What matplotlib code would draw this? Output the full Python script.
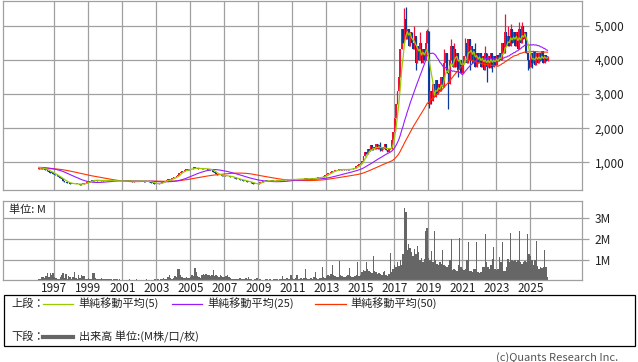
import numpy as np
import pandas as pd
import matplotlib
matplotlib.use("Agg")
import matplotlib.pyplot as plt
from matplotlib.patches import Rectangle
from matplotlib.lines import Line2D

# closes before the visible range, only used to seed the moving averages
pre_1992_1995 = [
    720, 730, 710, 740, 750, 730, 720, 740, 760, 750, 740, 760,
    770, 760, 780, 790, 770, 760, 780, 800, 790, 810, 820, 830,
    840, 860, 850, 870, 880, 860, 850, 870, 860, 850, 840, 860,
    870, 850, 830, 820, 840, 860, 870, 850, 860, 870, 850, 840,
]

# monthly closes, Jan 1996 .. Dec 2025
close_1996_2000 = [
    830, 850, 820, 810, 790, 780, 760, 730, 700, 690, 660, 640,
    620, 590, 560, 530, 500, 470, 440, 420, 410, 390, 380, 370,
    380, 360, 370, 380, 360, 350, 370, 380, 390, 400, 420, 440,
    460, 480, 470, 490, 480, 470, 460, 470, 480, 470, 460, 470,
    470, 480, 460, 470, 460, 450, 460, 470, 460, 450, 460, 450,
]
close_2001_2005 = [
    460, 450, 460, 470, 460, 450, 440, 450, 460, 450, 460, 450,
    460, 450, 440, 450, 460, 450, 430, 410, 400, 380, 370, 380,
    370, 390, 410, 430, 450, 470, 480, 500, 490, 520, 530, 560,
    570, 600, 640, 690, 720, 760, 740, 780, 800, 780, 810, 800,
    820, 860, 840, 830, 810, 820, 800, 840, 820, 800, 810, 790,
]
close_2006_2010 = [
    800, 790, 770, 720, 680, 650, 640, 630, 620, 610, 620, 600,
    610, 600, 590, 580, 570, 560, 540, 520, 510, 500, 490, 480,
    470, 460, 450, 440, 430, 420, 400, 380, 370, 360, 380, 400,
    420, 440, 450, 460, 470, 460, 450, 460, 470, 460, 450, 460,
    470, 480, 470, 490, 500, 490, 480, 500, 510, 500, 490, 500,
]
close_2011_2015 = [
    510, 500, 510, 520, 510, 520, 510, 520, 530, 520, 510, 520,
    530, 520, 540, 550, 540, 560, 570, 560, 580, 600, 620, 650,
    680, 700, 720, 740, 760, 780, 770, 790, 800, 780, 800, 790,
    780, 800, 790, 810, 800, 820, 830, 850, 880, 920, 950, 980,
    1050, 1180, 1300, 1250, 1400, 1330, 1500, 1350, 1450, 1380, 1550, 1400,
]
close_2016_2020 = [
    1500, 1320, 1450, 1380, 1550, 1350, 1300, 1420, 1380, 1650, 1900, 2300,
    2700, 3100, 3500, 4300, 4900, 4500, 5200, 4600, 4900, 4400, 4800, 4500,
    4300, 4700, 3900, 4400, 4000, 4500, 3900, 4300, 4000, 4500, 4850, 2700,
    3100, 2800, 3300, 2900, 3400, 3000, 3300, 3100, 3500, 3200, 3900, 4200,
    3600, 3300, 4000, 4400, 3800, 4300, 3800, 4200, 3700, 4000, 3600, 3900,
]
close_2021_2025 = [
    4100, 4500, 3900, 4600, 4000, 4400, 3900, 4300, 3800, 4200, 3900, 4200,
    3800, 4100, 3700, 4200, 3800, 4100, 3750, 4200, 3800, 4100, 3850, 4150,
    3950, 4200, 4000, 4500, 4200, 4800, 4400, 4700, 4400, 4900, 4500, 4800,
    4400, 4800, 4300, 4900, 4500, 5000, 4600, 4800, 4200, 4000, 3800, 4200,
    3900, 4250, 3850, 4200, 3900, 4200, 3950, 4250, 3900, 4150, 3950, 4100,
]
first_open = 820

# notable wicks (month -> price)
wick_high = {"2016-02": 1600, "2017-07": 5500, "2017-08": 5550, "2018-02": 5000,
             "2018-06": 4800, "2018-11": 4900, "2019-11": 4300, "2020-04": 4600,
             "2020-06": 4500, "2021-02": 4650, "2021-09": 4500, "2022-04": 4400,
             "2023-06": 5350, "2023-08": 5000, "2023-10": 5050, "2024-04": 5100,
             "2024-06": 5100}
wick_low = {"2018-03": 3700, "2018-12": 2600, "2019-02": 2700, "2020-02": 2550,
            "2020-09": 3500, "2021-05": 3700, "2022-05": 3350, "2022-09": 3650,
            "2024-10": 3700, "2024-11": 3750, "2025-01": 3750}

# monthly volume in millions
vol_1996_2000 = [
    0.10, 0.12, 0.20, 0.22, 0.18, 0.25, 0.40, 0.22, 0.42, 0.30, 0.42, 0.20,
    0.15, 0.12, 0.10, 0.20, 0.30, 0.38, 0.15, 0.35, 0.12, 0.25, 0.20, 0.12,
    0.20, 0.45, 0.15, 0.10, 0.30, 0.18, 0.30, 0.25, 0.28, 0.12, 0.10, 0.15,
    0.12, 0.10, 0.40, 0.38, 0.15, 0.12, 0.10, 0.12, 0.15, 0.10, 0.12, 0.10,
    0.12, 0.10, 0.10, 0.12, 0.08, 0.10, 0.12, 0.10, 0.08, 0.10, 0.06, 0.08,
]
vol_2001_2005 = [
    0.05, 0.06, 0.05, 0.08, 0.10, 0.06, 0.05, 0.06, 0.08, 0.10, 0.06, 0.05,
    0.06, 0.08, 0.05, 0.06, 0.10, 0.06, 0.05, 0.08, 0.06, 0.05, 0.12, 0.08,
    0.10, 0.08, 0.12, 0.10, 0.15, 0.12, 0.10, 0.20, 0.32, 0.15, 0.12, 0.18,
    0.25, 0.20, 0.60, 0.58, 0.30, 0.20, 0.15, 0.18, 0.22, 0.15, 0.18, 0.20,
    0.30, 0.25, 0.66, 0.45, 0.25, 0.20, 0.18, 0.30, 0.35, 0.30, 0.35, 0.32,
]
vol_2006_2010 = [
    0.30, 0.25, 0.30, 0.55, 0.25, 0.30, 0.28, 0.20, 0.30, 0.25, 0.20, 0.22,
    0.25, 0.30, 0.20, 0.15, 0.12, 0.10, 0.12, 0.10, 0.12, 0.10, 0.15, 0.12,
    0.10, 0.12, 0.15, 0.10, 0.22, 0.12, 0.10, 0.08, 0.10, 0.12, 0.15, 0.08,
    0.10, 0.08, 0.06, 0.08, 0.10, 0.12, 0.08, 0.10, 0.06, 0.08, 0.10, 0.12,
    0.10, 0.08, 0.12, 0.10, 0.28, 0.12, 0.10, 0.15, 0.12, 0.10, 0.30, 0.15,
]
vol_2011_2015 = [
    0.12, 0.15, 0.33, 0.12, 0.10, 0.15, 0.12, 0.18, 0.60, 0.15, 0.12, 0.10,
    0.15, 0.12, 0.20, 0.47, 0.15, 0.12, 0.18, 0.15, 0.68, 0.20, 0.15, 0.25,
    0.30, 0.25, 0.35, 0.80, 0.30, 0.25, 0.22, 0.20, 0.99, 0.30, 0.25, 0.22,
    0.20, 0.25, 0.30, 0.66, 0.25, 0.20, 0.22, 0.25, 0.30, 0.94, 0.25, 0.30,
    0.45, 0.55, 0.50, 0.90, 0.60, 0.50, 0.45, 0.40, 1.23, 0.50, 0.45, 0.35,
]
vol_2016_2020 = [
    0.40, 0.35, 0.30, 0.45, 0.50, 0.30, 0.25, 0.35, 1.34, 0.45, 0.60, 0.80,
    0.70, 0.90, 0.75, 1.00, 0.80, 1.30, 3.50, 3.28, 1.50, 1.78, 1.60, 1.40,
    1.20, 1.54, 1.30, 1.70, 1.39, 1.00, 1.10, 0.90, 1.05, 2.40, 2.54, 1.10,
    1.00, 1.46, 0.90, 2.40, 1.00, 0.85, 0.80, 0.90, 0.85, 1.50, 0.80, 0.75,
    0.70, 0.80, 1.00, 2.00, 0.55, 0.60, 0.55, 0.50, 0.80, 2.05, 0.68, 0.60,
]
vol_2021_2025 = [
    0.55, 0.60, 1.00, 1.86, 0.52, 0.50, 0.45, 0.60, 0.60, 1.86, 0.45, 0.40,
    0.45, 0.68, 0.70, 2.25, 0.90, 0.70, 0.60, 0.80, 1.07, 1.65, 0.60, 0.55,
    0.60, 1.15, 0.90, 1.86, 0.52, 0.50, 0.70, 1.07, 0.90, 2.28, 1.00, 0.95,
    1.00, 0.90, 1.00, 2.40, 0.90, 0.85, 0.90, 0.95, 0.90, 2.25, 1.30, 1.22,
    1.00, 0.80, 1.00, 1.94, 0.75, 0.60, 0.70, 0.65, 0.68, 1.50, 0.68, 0.20,
]

year_ticks = list(range(1997, 2026, 2))
price_ticks = [1000, 2000, 3000, 4000, 5000]
vol_ticks = [1, 2, 3]

plt.rcParams["font.family"] = ["Noto Sans CJK JP", "DejaVu Sans"]

close = np.array(close_1996_2000 + close_2001_2005 + close_2006_2010 +
                 close_2011_2015 + close_2016_2020 + close_2021_2025, dtype=float)
volume = np.array(vol_1996_2000 + vol_2001_2005 + vol_2006_2010 +
                  vol_2011_2015 + vol_2016_2020 + vol_2021_2025)
n = len(close)
months = pd.date_range("1996-01-01", periods=n, freq="MS")
t = 1996.1 + np.arange(n) / 12.0

opn = np.concatenate([[first_open], close[:-1]])
high = np.maximum(opn, close)
low = np.minimum(opn, close)
keys = list(months.strftime("%Y-%m"))
for k, v in wick_high.items():
    high[keys.index(k)] = v
for k, v in wick_low.items():
    low[keys.index(k)] = v

# moving averages, seeded with the earlier closes
s = pd.Series(pre_1992_1995 + list(close))
npre = len(pre_1992_1995)
ma5 = s.rolling(5).mean().iloc[npre:].values
ma25 = s.rolling(25).mean().iloc[npre:].values
ma50 = s.rolling(50, min_periods=1).mean().iloc[npre:].values

W, H = 638, 362
GRID = "#a0a0a0"
RED = "#f0103a"
BLUE = "#0c3a9a"

fig = plt.figure(figsize=(W / 100, H / 100), dpi=100)
ax = fig.add_axes([3.3 / W, 1 - 190.3 / H, 579 / W, 189.8 / H])
axv = fig.add_axes([3.3 / W, 1 - 280.3 / H, 579 / W, 79.3 / H])

# price panel
up = close >= opn
colors = np.where(up, RED, BLUE)
ax.vlines(t, low, high, colors=colors, linewidth=0.9, zorder=2)
body_h = np.maximum(np.abs(close - opn), 15)
ax.bar(t, body_h, bottom=np.minimum(opn, close), width=0.1,
       color=colors, linewidth=0, zorder=2)
ax.plot(t, ma50, color="#ff3300", linewidth=0.8, zorder=3)
ax.plot(t, ma25, color="#9a1aff", linewidth=0.8, zorder=3)
ax.plot(t, ma5, color="#99cc00", linewidth=0.9, zorder=4)

ax.set_xlim(1994.0, 2028.06)
ax.set_ylim(184, 5732)
ax.set_xticks(year_ticks)
ax.set_xticklabels([])
ax.set_yticks(price_ticks)
ax.set_yticklabels([f"{v:,}" for v in price_ticks])
ax.yaxis.tick_right()

# volume panel
axv.bar(t, volume, width=1 / 12.0, color="#666666", linewidth=0, zorder=2)
axv.set_xlim(1994.0, 2028.06)
axv.set_ylim(0.057, 3.81)
axv.set_xticks(year_ticks)
axv.set_xticklabels([str(y) for y in year_ticks])
axv.set_yticks(vol_ticks)
axv.set_yticklabels([f"{v}M" for v in vol_ticks])
axv.yaxis.tick_right()
axv.text(6 / 579, 1 - 9 / 79.3, "単位: M", transform=axv.transAxes,
         fontsize=8, va="center", ha="left", color="#222222")

for a in (ax, axv):
    a.grid(True, color=GRID, linewidth=0.9, zorder=0)
    a.set_axisbelow(True)
    for sp in a.spines.values():
        sp.set_color(GRID)
        sp.set_linewidth(0.9)
    a.tick_params(axis="y", direction="out", length=5, width=0.9, color=GRID,
                  labelsize=8.5, pad=4, labelcolor="#222222")
    a.tick_params(axis="x", length=0, labelsize=8.5, pad=1, labelcolor="#222222")

# legend box
def fx(px):
    return px / W

def fy(py):
    return 1 - py / H

fig.add_artist(Rectangle((fx(3.5), fy(345.7)), (634.7 - 3.5) / W, (345.7 - 295) / H,
                         transform=fig.transFigure, fill=False,
                         edgecolor="black", linewidth=0.9))
row1, row2 = 303.5, 336.5
fig.text(fx(11), fy(row1), "上段：", fontsize=8, va="center", color="#222222")
fig.text(fx(11), fy(row2), "下段：", fontsize=8, va="center", color="#222222")
legend_items = [
    (43, 73, 78, "#99cc00", "単純移動平均(5)"),
    (172, 202, 207, "#9a1aff", "単純移動平均(25)"),
    (315, 346, 350, "#ff3300", "単純移動平均(50)"),
]
for x0, x1, xt, c, label in legend_items:
    fig.add_artist(Line2D([fx(x0), fx(x1)], [fy(row1), fy(row1)], color=c,
                          linewidth=0.9, transform=fig.transFigure))
    fig.text(fx(xt), fy(row1), label, fontsize=8, va="center", color="#222222")
fig.add_artist(Line2D([fx(43), fx(73)], [fy(row2), fy(row2)], color="#666666",
                      linewidth=3, transform=fig.transFigure))
fig.text(fx(79), fy(row2), "出来高 単位:(M株/口/枚)", fontsize=8, va="center",
         color="#222222")

fig.text(fx(618), fy(357.5), "(c)Quants Research Inc.", fontsize=8, ha="right",
         va="center", color="#555555")

fig.savefig("out.png", dpi=100)
